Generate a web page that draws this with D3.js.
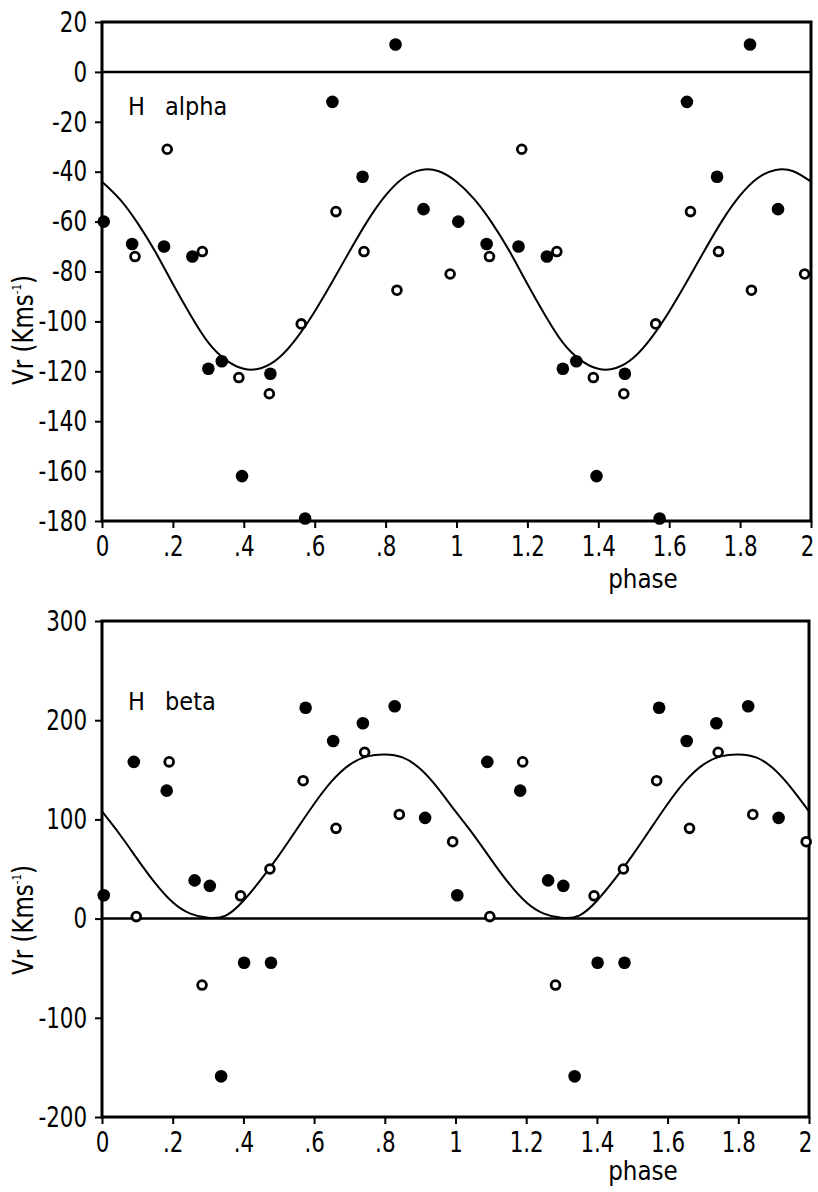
<!DOCTYPE html>
<html>
<head>
<meta charset="utf-8">
<script src="https://cdn.jsdelivr.net/npm/d3@7"></script>
<style>
  body { margin: 0; background: #fff; }
  svg text { font-family: 'Liberation Sans Narrow', 'DejaVu Sans Condensed', 'DejaVu Sans', sans-serif; font-stretch: condensed; fill: #000; }
</style>
</head>
<body>
<svg id="chart" width="818" height="1192"></svg>
<script>
// phase axis, shared by both panels
const phaseTicks = [0, 0.2, 0.4, 0.6, 0.8, 1, 1.2, 1.4, 1.6, 1.8, 2];
const phaseLabels = ["0", ".2", ".4", ".6", ".8", "1", "1.2", "1.4", "1.6", "1.8", "2"];
const cycles = [0, 1];

// H alpha : [phase, Vr]
const alphaFilled = [[0.005, -60], [0.085, -69], [0.175, -70], [0.255, -74], [0.300, -119], [0.338, -116],
  [0.395, -162], [0.475, -121], [0.573, -179], [0.650, -12], [0.735, -42], [0.828, 11], [0.907, -55]];
const alphaOpen = [[0.093, -74], [0.184, -31], [0.283, -72], [0.386, -122.5], [0.472, -129], [0.562, -101],
  [0.660, -56], [0.739, -72], [0.832, -87.5], [0.982, -81]];
const alphaCurve = [[0, -44], [0.05, -51], [0.1, -60.5], [0.15, -72], [0.2, -85], [0.25, -97.5], [0.3, -108.5],
  [0.35, -115.5], [0.4, -119], [0.45, -118.7], [0.5, -114.5], [0.55, -106.5], [0.6, -96], [0.65, -84],
  [0.7, -71.5], [0.75, -59.5], [0.8, -49.5], [0.85, -42.5], [0.9, -39.3], [0.95, -39.8]];
const alphaTicks = [20, 0, -20, -40, -60, -80, -100, -120, -140, -160, -180];

// H beta : [phase, Vr]
const betaFilled = [[0.005, 23.5], [0.09, 158], [0.183, 129], [0.262, 38.5], [0.305, 33], [0.337, -159],
  [0.402, -44.5], [0.478, -44.5], [0.576, 212.5], [0.654, 179], [0.738, 197], [0.828, 214], [0.914, 101.5]];
const betaOpen = [[0.097, 2], [0.19, 158], [0.283, -67], [0.392, 23], [0.475, 50], [0.569, 139],
  [0.662, 91], [0.743, 167.7], [0.841, 105], [0.992, 77.5]];
const betaCurve = [[0, 108], [0.05, 85], [0.1, 60], [0.15, 36], [0.2, 16.5], [0.25, 5], [0.3, 0.8],
  [0.35, 3], [0.4, 18], [0.45, 39.5], [0.5, 63.5], [0.55, 89.5], [0.6, 115.5], [0.65, 138.5], [0.7, 155],
  [0.75, 163.5], [0.8, 165.5], [0.85, 162.5], [0.9, 151], [0.95, 131.5]];
const betaTicks = [300, 200, 100, 0, -100, -200];

const svg = d3.select("#chart");

// repeat one cycle of phase over 0..2
function twoCycles(pts) {
  let out = [];
  cycles.forEach(c => pts.forEach(p => { if (p[0] + c <= 2) out.push([p[0] + c, p[1]]); }));
  return out;
}

// squeeze texts sideways, the original lettering is narrow
function narrow(sel, k) {
  sel.each(function () {
    let w = this.getComputedTextLength();
    d3.select(this).attr("textLength", w * k).attr("lengthAdjust", "spacingAndGlyphs");
  });
}

function drawPanel(opt) {
  let x = d3.scaleLinear().domain([0, 2]).range([opt.left, opt.right]);
  let y = d3.scaleLinear().domain(opt.yDomain).range([opt.bottom, opt.top]);
  let g = svg.append("g");

  // y axis ticks + labels
  let ya = g.append("g")
    .attr("transform", `translate(${opt.left},0)`)
    .call(d3.axisLeft(y).tickValues(opt.yTicks).tickSize(7).tickPadding(8).tickFormat(d => String(d)));
  ya.select(".domain").remove();
  ya.selectAll("line").attr("stroke-width", 2);
  ya.selectAll("text").attr("font-size", 29).attr("font-family", null).call(narrow, 0.82);

  // x axis ticks + labels
  let xa = g.append("g")
    .attr("transform", `translate(0,${opt.bottom})`)
    .call(d3.axisBottom(x).tickValues(phaseTicks).tickSize(7).tickPadding(7)
      .tickFormat((d, i) => phaseLabels[i]));
  xa.select(".domain").remove();
  xa.selectAll("line").attr("stroke-width", 2);
  xa.selectAll("text").attr("font-size", 29).attr("font-family", null).call(narrow, 0.82);
  xa.selectAll("text").filter(d => d === 2).attr("dx", -4);

  // frame
  g.append("rect")
    .attr("x", x(0)).attr("y", y(opt.yDomain[1]))
    .attr("width", x(2) - x(0)).attr("height", y(opt.yDomain[0]) - y(opt.yDomain[1]))
    .attr("fill", "none").attr("stroke", "#000").attr("stroke-width", 3);

  // zero line
  g.append("line")
    .attr("x1", x(0)).attr("x2", x(2)).attr("y1", y(0)).attr("y2", y(0))
    .attr("stroke", "#000").attr("stroke-width", 2.5);

  // fitted curve
  let curvePts = twoCycles(opt.curve);
  curvePts.push([2, opt.curve[0][1]]);
  g.append("path")
    .datum(curvePts)
    .attr("fill", "none").attr("stroke", "#000").attr("stroke-width", 2)
    .attr("d", d3.line().x(d => x(d[0])).y(d => y(d[1])).curve(d3.curveNatural));

  // filled points
  g.append("g").selectAll("circle")
    .data(twoCycles(opt.filled))
    .enter().append("circle")
      .attr("cx", d => x(d[0])).attr("cy", d => y(d[1]))
      .attr("r", 6.3).attr("fill", "#000");

  // open points
  g.append("g").selectAll("circle")
    .data(twoCycles(opt.open))
    .enter().append("circle")
      .attr("cx", d => x(d[0])).attr("cy", d => y(d[1]))
      .attr("r", 4.4).attr("fill", "#fff").attr("stroke", "#000").attr("stroke-width", 2.8);

  // line name
  let nm = g.append("text").attr("x", 128).attr("y", opt.nameY).attr("font-size", 25);
  nm.append("tspan").text("H");
  nm.append("tspan").attr("x", 165).text(opt.name);

  // axis titles
  let yl = g.append("text")
    .attr("transform", `translate(33,${opt.yLabelY}) rotate(-90)`)
    .attr("text-anchor", "middle").attr("font-size", 29);
  yl.append("tspan").text("Vr (Kms");
  yl.append("tspan").attr("font-size", 13).attr("dy", -12).text("-1");
  yl.append("tspan").attr("dy", 12).text(")");
  yl.call(narrow, 0.88);

  g.append("text")
    .attr("x", 643).attr("y", opt.phaseY)
    .attr("text-anchor", "middle").attr("font-size", 27)
    .text("phase")
    .call(narrow, 0.95);
}

drawPanel({
  left: 102, right: 811, top: 22, bottom: 521,
  yDomain: [-180, 20], yTicks: alphaTicks,
  filled: alphaFilled, open: alphaOpen, curve: alphaCurve,
  name: "alpha", nameY: 115, yLabelY: 330, phaseY: 588
});

drawPanel({
  left: 102, right: 809, top: 621, bottom: 1117,
  yDomain: [-200, 300], yTicks: betaTicks,
  filled: betaFilled, open: betaOpen, curve: betaCurve,
  name: "beta", nameY: 710, yLabelY: 920, phaseY: 1180
});
</script>
</body>
</html>
